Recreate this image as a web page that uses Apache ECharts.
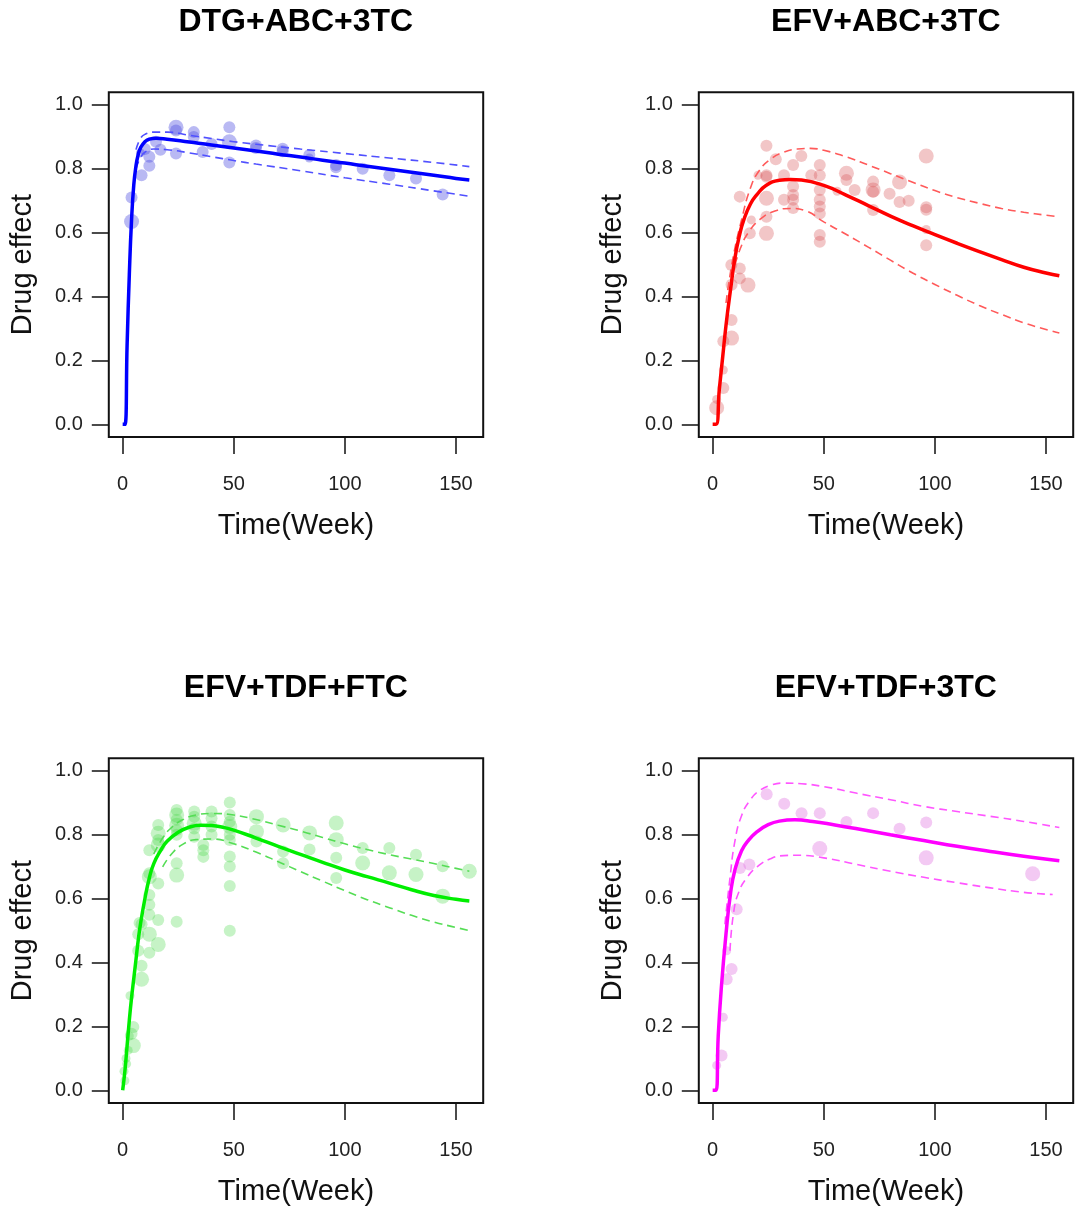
<!DOCTYPE html>
<html>
<head>
<meta charset="utf-8">
<script src="https://cdn.jsdelivr.net/npm/echarts@6/dist/echarts.min.js"></script>
<style>
html,body{margin:0;padding:0;background:#fff;}
#chart{width:1078px;height:1211px;}
</style>
</head>
<body>
<div id="chart"></div>
<script>
// panel titles and axis ticks
var panelTitles = ['DTG+ABC+3TC', 'EFV+ABC+3TC', 'EFV+TDF+FTC', 'EFV+TDF+3TC'];
var xTicks = [0, 50, 100, 150];
var yTicks = [0, 0.2, 0.4, 0.6, 0.8, 1.0];

// observed points: [week, effect, n]
var dtgPoints = [[4,0.635,3],[4,0.71,2],[8.5,0.78,2],[8,0.85,1],[10,0.862,2],[12,0.81,2],[12,0.838,2],[15,0.885,2],[17,0.86,2],
	[24,0.93,3],[24,0.92,2],[24,0.848,2],[32,0.915,2],[32,0.90,2],[36,0.853,2],[40,0.878,2],[48,0.93,2],[48,0.885,3],[48,0.82,2],
	[60,0.873,2],[60,0.865,2],[72,0.863,2],[72,0.855,2],[84,0.843,2],[84,0.834,1],[96,0.812,2],[96,0.805,2],[108,0.80,2],
	[120,0.78,2],[132,0.77,2],[144,0.72,2]];
var dtgFit = [[0,0],[1,0],[2,0.25],[3,0.47],[4,0.64],[5,0.75],[6,0.81],[7,0.845],[8,0.865],[10,0.885],[12,0.893],[15,0.896],
	[20,0.893],[30,0.884],[40,0.875],[50,0.865],[60,0.856],[70,0.846],[80,0.837],[90,0.827],[100,0.818],[110,0.808],[120,0.799],
	[130,0.789],[140,0.78],[150,0.77],[156,0.765]];
var dtgUpper = [[6,0.86],[8,0.895],[10,0.908],[14,0.915],[20,0.915],[30,0.905],[40,0.895],[50,0.885],[60,0.877],[80,0.862],
	[100,0.848],[120,0.834],[140,0.82],[156,0.807]];
var dtgLower = [[6,0.80],[8,0.835],[10,0.852],[14,0.862],[20,0.86],[30,0.85],[40,0.838],[50,0.826],[60,0.815],[80,0.794],
	[100,0.772],[120,0.752],[140,0.731],[156,0.714]];

var abcPoints = [[1.8,0.052,3],[1.8,0.078,1],[4.8,0.114,2],[4.8,0.17,1],[4.8,0.26,2],[8.5,0.27,3],[8.5,0.327,2],[8.5,0.437,2],
	[8.4,0.499,2],[12.2,0.457,2],[12.2,0.488,2],[12.2,0.713,2],[15.9,0.436,3],[16.7,0.598,2],[17.4,0.64,1],[20.4,0.78,1],
	[24.2,0.872,2],[24.2,0.78,2],[24.2,0.775,2],[24.2,0.708,3],[24.2,0.65,2],[24.2,0.598,3],[28.4,0.83,2],[32.1,0.78,2],
	[32.1,0.703,2],[36.2,0.812,2],[36.2,0.745,2],[36.2,0.718,2],[36.2,0.703,2],[36.2,0.677,2],[39.9,0.84,2],[44.4,0.78,2],
	[48.2,0.812,2],[48.2,0.78,2],[48.2,0.734,2],[48.2,0.703,2],[48.2,0.682,2],[48.2,0.66,2],[48.2,0.593,2],[48.2,0.572,2],
	[56,0.73,1],[60.2,0.786,3],[60.2,0.765,2],[63.9,0.734,2],[72.2,0.76,2],[72.2,0.734,3],[72.2,0.728,2],[72.2,0.671,2],
	[79.6,0.722,2],[84.1,0.759,3],[84.1,0.696,2],[88.2,0.70,2],[96.1,0.84,3],[96.1,0.68,2],[96.1,0.672,2],[96.1,0.61,1],
	[96.1,0.561,2]];
var abcFit = [[0,0],[1.5,0],[3,0.11],[4.5,0.21],[6,0.31],[8,0.42],[10,0.52],[12,0.59],[14,0.64],[17,0.69],[20,0.72],[24,0.748],
	[30,0.764],[35,0.767],[40,0.765],[50,0.748],[60,0.718],[70,0.685],[80,0.652],[90,0.622],[100,0.594],[110,0.567],[120,0.541],
	[130,0.516],[140,0.492],[150,0.474],[156,0.465]];
var abcUpper = [[6,0.38],[9,0.515],[13,0.64],[17,0.74],[21,0.795],[26,0.83],[32,0.852],[38,0.862],[44,0.864],[50,0.858],
	[60,0.838],[70,0.812],[80,0.785],[90,0.758],[100,0.732],[110,0.71],[120,0.692],[130,0.676],[140,0.664],[150,0.655],[156,0.65]];
var abcLower = [[10,0.50],[13,0.56],[16,0.60],[21,0.64],[28,0.668],[35,0.676],[42,0.668],[50,0.634],[60,0.595],[70,0.555],
	[80,0.514],[90,0.474],[100,0.438],[110,0.404],[120,0.372],[130,0.344],[140,0.318],[150,0.297],[156,0.286]];

var ftcPoints = [[0.6,0.06,1],[1,0.03,1],[1.5,0.1,1],[1.8,0.083,1],[2.5,0.125,1],[3,0.17,1],[4,0.177,2],[4.8,0.14,3],[4.8,0.198,2],
	[3.3,0.296,1],[7,0.437,2],[7,0.489,2],[7.6,0.524,2],[8.5,0.348,3],[8.5,0.39,2],[8.5,0.52,2],[12,0.431,2],[12,0.489,3],
	[12,0.55,2],[12,0.581,2],[12,0.612,2],[12,0.669,3],[12,0.68,2],[12,0.752,2],[16,0.457,3],[16,0.533,2],[16,0.648,2],
	[16,0.768,3],[16,0.784,2],[16,0.805,3],[16,0.831,2],[24.3,0.528,2],[24.3,0.674,3],[24.3,0.711,2],[24.3,0.80,2],
	[24.3,0.815,2],[24.3,0.83,3],[24.3,0.847,2],[24.3,0.862,3],[24.3,0.878,2],[32.2,0.794,2],[32.2,0.82,2],[32.2,0.836,3],
	[32.2,0.857,2],[32.2,0.873,2],[36.3,0.731,2],[36.3,0.752,2],[36.3,0.768,2],[40,0.80,2],[40,0.826,2],[40,0.852,2],
	[40,0.873,2],[48.2,0.50,2],[48.2,0.64,2],[48.2,0.701,2],[48.2,0.732,2],[48.2,0.784,2],[48.2,0.80,2],[48.2,0.826,3],
	[48.2,0.841,2],[48.2,0.862,2],[48.2,0.901,2],[60.2,0.779,2],[60.2,0.81,3],[60.2,0.857,3],[72.2,0.711,2],[72.2,0.748,2],
	[72.2,0.831,3],[84.1,0.754,2],[84.1,0.806,3],[96.1,0.665,2],[96.1,0.728,2],[96.1,0.785,3],[96.1,0.837,3],[108,0.712,3],
	[108,0.759,2],[120,0.681,3],[120,0.759,2],[132,0.676,3],[132,0.738,2],[144,0.608,3],[144,0.702,2],[156,0.686,3]];
var ftcFit = [[0,0],[1,0.06],[2,0.14],[3,0.22],[4,0.29],[5,0.35],[6,0.41],[7,0.47],[8,0.52],[10,0.60],[12,0.665],[14,0.71],
	[17,0.75],[20,0.78],[25,0.808],[30,0.824],[35,0.83],[40,0.829],[45,0.824],[50,0.815],[60,0.79],[70,0.764],[80,0.739],
	[90,0.714],[100,0.69],[110,0.669],[120,0.649],[130,0.628],[140,0.61],[150,0.598],[156,0.593]];
var ftcUpper = [[14,0.74],[18,0.79],[22,0.823],[27,0.847],[33,0.862],[40,0.867],[50,0.862],[60,0.848],[70,0.83],[80,0.812],
	[90,0.792],[100,0.772],[110,0.754],[120,0.738],[130,0.724],[140,0.71],[150,0.695],[156,0.686]];
var ftcLower = [[18,0.70],[22,0.74],[27,0.77],[33,0.785],[40,0.787],[50,0.772],[60,0.746],[70,0.716],[80,0.685],[90,0.655],
	[100,0.625],[110,0.597],[120,0.572],[130,0.548],[140,0.527],[150,0.51],[156,0.50]];

var tdfPoints = [[1.8,0.078,1],[4,0.109,2],[4.8,0.229,1],[6.3,0.348,2],[8.5,0.38,2],[6.3,0.437,1],[10.8,0.567,2],[12.3,0.696,2],
	[16.5,0.707,2],[24.3,0.927,2],[32.2,0.897,2],[40,0.868,2],[48.2,0.868,2],[48.2,0.757,3],[60.2,0.84,2],[72.2,0.868,2],
	[84.1,0.819,2],[96.1,0.839,2],[96.1,0.728,3],[144,0.678,3]];
var tdfFit = [[0,0],[1.5,0],[2.5,0.17],[4,0.33],[6,0.49],[8,0.615],[10,0.69],[13,0.75],[16,0.782],[20,0.81],[25,0.832],
	[30,0.843],[37,0.847],[45,0.842],[55,0.831],[65,0.819],[80,0.80],[95,0.782],[110,0.764],[125,0.748],[140,0.733],[156,0.719]];
var tdfUpper = [[5.5,0.52],[7.8,0.665],[10,0.78],[13,0.86],[17,0.91],[21,0.938],[26,0.955],[32,0.962],[40,0.96],[50,0.951],
	[65,0.93],[80,0.91],[95,0.889],[110,0.873],[125,0.858],[140,0.842],[156,0.823]];
var tdfLower = [[7.8,0.437],[9.5,0.56],[12,0.625],[15.3,0.665],[20,0.70],[26,0.725],[32,0.735],[38,0.736],[50,0.728],[65,0.707],
	[80,0.686],[95,0.667],[110,0.65],[125,0.634],[140,0.62],[153,0.613]];

var panels = [
	{points: dtgPoints, fit: dtgFit, upper: dtgUpper, lower: dtgLower, line: '#0000ff', dash: '#5050ff', dot: 'rgba(80,80,225,0.5)'},
	{points: abcPoints, fit: abcFit, upper: abcUpper, lower: abcLower, line: '#ff0000', dash: '#ff5a5a', dot: 'rgba(215,85,90,0.42)'},
	{points: ftcPoints, fit: ftcFit, upper: ftcUpper, lower: ftcLower, line: '#00ee00', dash: '#55dd55', dot: 'rgba(70,215,70,0.38)'},
	{points: tdfPoints, fit: tdfFit, upper: tdfUpper, lower: tdfLower, line: '#ff00ff', dash: '#ff55ff', dot: 'rgba(225,120,225,0.5)'}
];

var font = 'Liberation Sans, Arial, Helvetica, sans-serif';
var dotSizes = [0, 9, 12, 15];

var chart = echarts.init(document.getElementById('chart'));
var option = {
	backgroundColor: '#fff',
	animation: false,
	title: [],
	grid: [],
	xAxis: [],
	yAxis: [],
	series: []
};

for (var i = 0; i < panels.length; i++) {
	var col = i % 2, row = Math.floor(i / 2);
	var p = panels[i];
	var boxLeft = 108.8 + 590 * col;
	var boxTop = 92.2 + 666 * row;

	option.title.push({
		text: panelTitles[i],
		left: boxLeft + 187,
		top: 6 + 666 * row,
		textAlign: 'center',
		padding: 0,
		textStyle: {fontFamily: font, fontSize: 32, fontWeight: 'bold', color: '#000'}
	});
	//the box is the grid border, axes padded 4% like R
	option.grid.push({
		left: boxLeft, top: boxTop, width: 374.4, height: 344.9,
		show: true, borderColor: '#111', borderWidth: 2, backgroundColor: 'transparent'
	});
	option.xAxis.push({
		type: 'value', gridIndex: i, min: -6.24, max: 162.24,
		name: 'Time(Week)', nameLocation: 'middle', nameGap: 74,
		nameTextStyle: {fontFamily: font, fontSize: 29, color: '#111'},
		splitLine: {show: false},
		axisLine: {show: false, onZero: false},
		axisTick: {show: true, length: 17, customValues: xTicks, lineStyle: {color: '#111', width: 1.5}},
		axisLabel: {customValues: xTicks, margin: 37, fontFamily: font, fontSize: 20, color: '#222'}
	});
	option.yAxis.push({
		type: 'value', gridIndex: i, min: -0.04, max: 1.04,
		name: 'Drug effect', nameLocation: 'middle', nameGap: 71,
		nameTextStyle: {fontFamily: font, fontSize: 29, color: '#111'},
		splitLine: {show: false},
		axisLine: {show: false, onZero: false},
		axisTick: {show: true, length: 17, customValues: yTicks, lineStyle: {color: '#111', width: 1.5}},
		axisLabel: {customValues: yTicks, margin: 26, fontFamily: font, fontSize: 20, color: '#222',
			formatter: function (v) { return v.toFixed(1); }}
	});
	option.series.push({
		type: 'scatter', xAxisIndex: i, yAxisIndex: i, data: p.points,
		symbolSize: function (d) { return dotSizes[d[2]]; },
		itemStyle: {color: p.dot}
	});
	option.series.push({
		type: 'line', xAxisIndex: i, yAxisIndex: i, data: p.upper, showSymbol: false, smooth: 0.5,
		lineStyle: {color: p.dash, width: 1.6, type: [8, 5]}
	});
	option.series.push({
		type: 'line', xAxisIndex: i, yAxisIndex: i, data: p.lower, showSymbol: false, smooth: 0.5,
		lineStyle: {color: p.dash, width: 1.6, type: [8, 5]}
	});
	option.series.push({
		type: 'line', xAxisIndex: i, yAxisIndex: i, data: p.fit, showSymbol: false, smooth: 0.5,
		lineStyle: {color: p.line, width: 3.5}
	});
}

chart.setOption(option);
</script>
</body>
</html>
